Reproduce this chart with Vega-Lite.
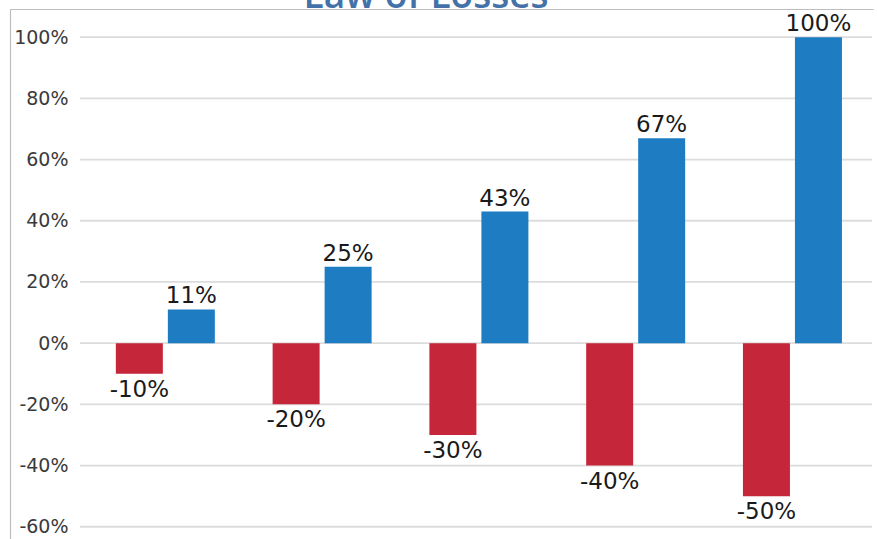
{
  "$schema": "https://vega.github.io/schema/vega-lite/v6.json",
  "width": 863,
  "height": 530,
  "autosize": {"type": "none"},
  "padding": {"left": 10, "top": 9, "right": 4, "bottom": 0},
  "background": "white",
  "config": {"view": {"stroke": null}, "font": "DejaVu Sans"},
  "datasets": {
    "bars": [
      {"pair": "1", "type": "loss", "value": -10, "label": "-10%"},
      {"pair": "1", "type": "gain", "value": 11, "label": "11%"},
      {"pair": "2", "type": "loss", "value": -20, "label": "-20%"},
      {"pair": "2", "type": "gain", "value": 25, "label": "25%"},
      {"pair": "3", "type": "loss", "value": -30, "label": "-30%"},
      {"pair": "3", "type": "gain", "value": 43, "label": "43%"},
      {"pair": "4", "type": "loss", "value": -40, "label": "-40%"},
      {"pair": "4", "type": "gain", "value": 67, "label": "67%"},
      {"pair": "5", "type": "loss", "value": -50, "label": "-50%"},
      {"pair": "5", "type": "gain", "value": 100, "label": "100%"}
    ],
    "grid": [
      {"g": -60}, {"g": -40}, {"g": -20}, {"g": 0}, {"g": 20}, {"g": 40}, {"g": 60}, {"g": 80}, {"g": 100}
    ],
    "heading": [{"text": "Law of Losses", "hx": "3", "hy": 109.5}]
  },
  "encoding": {
    "x": {
      "field": "pair",
      "type": "nominal",
      "scale": {"domain": ["1", "2", "3", "4", "5"], "paddingInner": 0, "paddingOuter": 0.2524, "align": 0.936},
      "axis": {"orient": "top", "labels": false, "ticks": false, "title": null, "domain": true, "domainColor": "#bdbdbd", "domainWidth": 1.2, "grid": false}
    },
    "y": {
      "field": "value",
      "type": "quantitative",
      "scale": {"domain": [-64, 109.2], "nice": false, "zero": false},
      "axis": {
        "orient": "left",
        "values": [-60, -40, -20, 0, 20, 40, 60, 80, 100],
        "labelExpr": "datum.value + '%'",
        "grid": false,
        "ticks": false,
        "tickSize": 0,
        "domain": true,
        "domainColor": "#bdbdbd",
        "domainWidth": 1.2,
        "labelAlign": "right",
        "labelBaseline": "middle",
        "labelPadding": -58,
        "labelFont": "DejaVu Sans",
        "labelFontSize": 19,
        "labelColor": "#3a3a3a",
        "title": null
      }
    }
  },
  "layer": [
    {
      "data": {"name": "grid"},
      "mark": {"type": "rule", "color": "#dcdcdc", "strokeWidth": 1.8},
      "encoding": {
        "y": {"field": "g", "type": "quantitative"},
        "x": {"datum": "1", "bandPosition": -0.026},
        "x2": {"datum": "5", "bandPosition": 1.026}
      }
    },
    {
      "data": {"name": "bars"},
      "mark": {"type": "bar"},
      "encoding": {
        "xOffset": {
          "field": "type",
          "type": "nominal",
          "scale": {"domain": ["loss", "gain"], "paddingInner": 0.0962, "paddingOuter": 0.5555, "align": 0.55}
        },
        "color": {
          "field": "type",
          "type": "nominal",
          "scale": {"domain": ["loss", "gain"], "range": ["#C5263A", "#1E7CC3"]},
          "legend": null
        }
      }
    },
    {
      "data": {"name": "bars"},
      "transform": [{"filter": "datum.value > 0"}],
      "mark": {"type": "text", "baseline": "alphabetic", "dy": -6, "fontSize": 23, "font": "DejaVu Sans", "color": "#1a1a1a"},
      "encoding": {
        "xOffset": {
          "field": "type",
          "type": "nominal",
          "scale": {"domain": ["loss", "gain"], "paddingInner": 0.0962, "paddingOuter": 0.5555, "align": 0.55}
        },
        "text": {"field": "label"}
      }
    },
    {
      "data": {"name": "bars"},
      "transform": [{"filter": "datum.value < 0"}],
      "mark": {"type": "text", "baseline": "top", "dy": 5, "fontSize": 23, "font": "DejaVu Sans", "color": "#1a1a1a"},
      "encoding": {
        "xOffset": {
          "field": "type",
          "type": "nominal",
          "scale": {"domain": ["loss", "gain"], "paddingInner": 0.0962, "paddingOuter": 0.5555, "align": 0.55}
        },
        "text": {"field": "label"}
      }
    },
    {
      "data": {"name": "heading"},
      "mark": {"type": "text", "baseline": "alphabetic", "align": "center", "fontSize": 37, "font": "Open Sans", "fontWeight": 600, "color": "#4472A8", "dx": -50},
      "encoding": {
        "x": {"field": "hx", "type": "nominal"},
        "y": {"field": "hy", "type": "quantitative"},
        "text": {"field": "text"}
      }
    }
  ]
}
